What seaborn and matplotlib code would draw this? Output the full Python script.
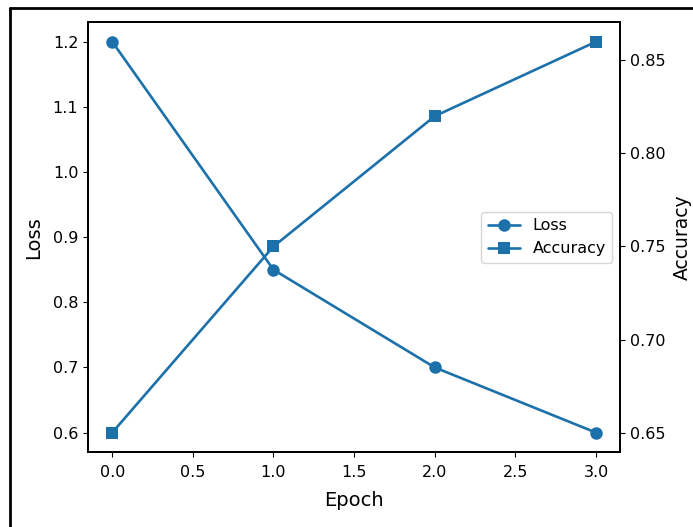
import matplotlib
matplotlib.use("Agg")
import matplotlib.pyplot as plt
import seaborn as sns
import pandas as pd
from matplotlib.lines import Line2D

epochs = [0, 1, 2, 3]
loss = [1.2, 0.85, 0.7, 0.6]
accuracy = [0.65, 0.75, 0.82, 0.86]

df = pd.DataFrame({"Epoch": epochs, "Loss": loss, "Accuracy": accuracy})

sns.set_style("ticks")
plt.rcParams['font.family'] = ['DejaVu Sans']
plt.rcParams['text.color'] = 'black'
plt.rcParams['axes.labelcolor'] = 'black'
plt.rcParams['xtick.color'] = 'black'
plt.rcParams['ytick.color'] = 'black'
plt.rcParams['axes.edgecolor'] = 'black'
color = "#1c71ab"

fig = plt.figure(figsize=(6.93, 5.27), dpi=100)
ax = fig.add_axes([0.127, 0.142, 0.768, 0.816])
sns.lineplot(data=df, x="Epoch", y="Loss", ax=ax, color=color, marker="o",
             markersize=9, linewidth=1.9, markeredgewidth=0, label="Loss", legend=False)
ax2 = ax.twinx()
sns.lineplot(data=df, x="Epoch", y="Accuracy", ax=ax2, color=color, marker="s",
             markersize=9, linewidth=1.9, markeredgewidth=0, label="Accuracy", legend=False)

for a in (ax, ax2):
    a.tick_params(labelsize=11.5, colors="black")
    for s in a.spines.values():
        s.set_linewidth(1.3)
        s.set_visible(True)
        s.set_color("black")
ax.tick_params(axis="x", pad=6)
ax.set_xlabel("Epoch", fontsize=14, labelpad=8)
ax.set_ylabel("Loss", fontsize=14, labelpad=7)
ax2.set_ylabel("Accuracy", fontsize=13.5, labelpad=5)

handles = [Line2D([], [], color=color, marker="o", markersize=9, linewidth=1.9, markeredgewidth=0),
           Line2D([], [], color=color, marker="s", markersize=9, linewidth=1.9, markeredgewidth=0)]
ax2.legend(handles, ["Loss", "Accuracy"], loc="center right", fontsize=11.5)

fig.add_artist(Line2D([10/693, 10/693], [0, 1 - 8/527], transform=fig.transFigure, color="black", linewidth=2))
fig.add_artist(Line2D([10/693, 1], [1 - 8/527, 1 - 8/527], transform=fig.transFigure, color="black", linewidth=2))

fig.savefig("out.png", dpi=100)
